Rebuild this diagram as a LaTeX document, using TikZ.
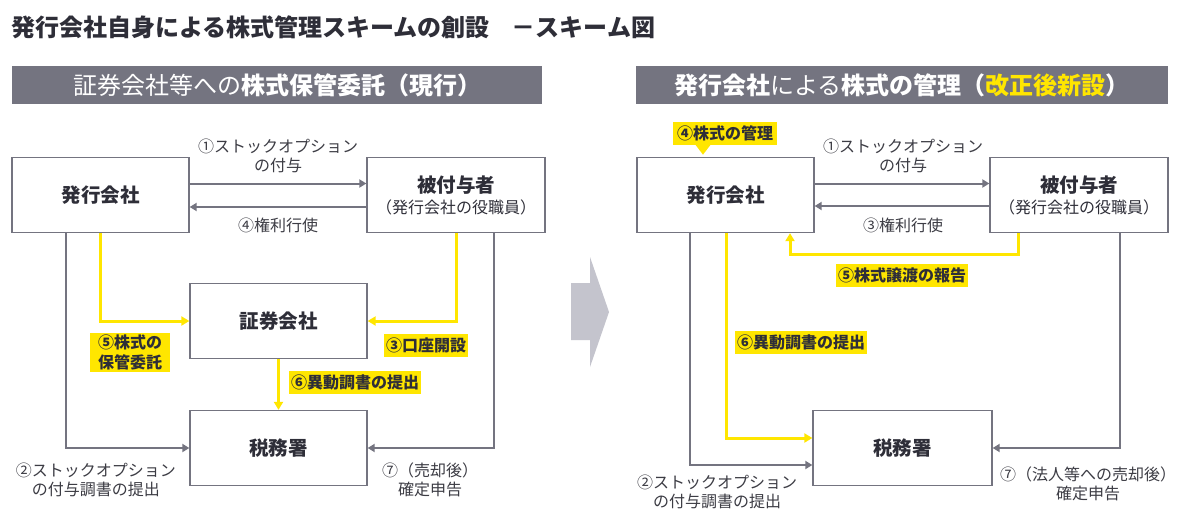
\documentclass[tikz,border=0pt]{standalone}
\usepackage{fontspec}
\setmainfont{Noto Sans CJK JP}
\usetikzlibrary{arrows.meta,calc}
\definecolor{eydark}{HTML}{2E2E38}
\definecolor{eygray}{HTML}{747480}
\definecolor{eyyellow}{HTML}{FFE600}
\definecolor{eylight}{HTML}{C4C4CD}
\definecolor{labtext}{HTML}{3C3C44}
\newcommand{\fs}[2]{\fontsize{#1pt}{#2pt}\selectfont}
\tikzset{
  box/.style={draw=eygray, line width=1.3pt, fill=white, minimum width=177pt, minimum height=75pt, inner sep=0pt, text=eydark, font=\fs{19.5}{23}\bfseries, align=center},
  hdr/.style={fill=eygray, minimum height=38pt, inner sep=0pt, text=white, font=\fs{24}{28}},
  garrow/.style={draw=eygray, line width=2pt, -{Triangle[width=8pt,length=7pt]}},
  yarrow/.style={draw=eyyellow, line width=3pt, -{Triangle[width=9pt,length=8pt]}},
  ylab/.style={fill=eyyellow, text=eydark, font=\fs{16}{20}\bfseries, inner xsep=2pt, inner ysep=2pt, minimum height=23pt, align=center},
  nlab/.style={text=labtext, font=\fs{16}{19.5}, inner sep=0pt, align=center},
}
\begin{document}
\begin{tikzpicture}[x=1pt,y=-1pt]
\useasboundingbox (0,0) rectangle (1180,514);
\fill[white] (0,0) rectangle (1180,514);

% title
\node[anchor=west, inner sep=0pt, text=eydark, font=\fs{24}{28}\bfseries] (title) at (11,27) {発行会社自身による株式管理スキームの創設\hspace{22pt}－スキーム図};

% headers
\node[hdr, minimum width=530pt] (hdrL) at (277,85) {証券会社等への\textbf{株式保管委託（現行）}};
\node[hdr, minimum width=532pt] (hdrR) at (902,85) {\textbf{発行会社}による\textbf{株式の管理（\textcolor{eyyellow}{改正後新設}）}};

% middle chevron
\fill[eylight] (571,283) -- (590,283) -- (590,257) -- (609,312) -- (590,367) -- (590,340) -- (571,340) -- cycle;

% ===== left panel =====
\node[box] (hakkoL) at (100.5,195) {発行会社};
\node[box, minimum width=178pt] (hifuL) at (456,195) {被付与者\\[-2pt]{\fs{16}{19}\mdseries （発行会社の役職員）}};
\node[box] (shokenL) at (278.5,321) {証券会社};
\node[box] (zeimuL) at (278.5,448) {税務署};

\draw[garrow] ([yshift=11.5pt]hakkoL.east) -- ([yshift=11.5pt]hifuL.west);
\draw[garrow] ([yshift=-12pt]hifuL.west) -- ([yshift=-12pt]hakkoL.east);
\node[nlab] (l1L) at (278,156) {①ストックオプション\\の付与};
\node[nlab] (l4L) at (278,225) {④権利行使};

\draw[yarrow] (hakkoL.south) |- (shokenL.west);
\draw[yarrow] (hifuL.south) |- (shokenL.east);
\draw[yarrow] (shokenL.south) -- (zeimuL.north);
\draw[garrow] ([xshift=-35pt]hakkoL.south) |- (zeimuL.west);
\draw[garrow] ([xshift=38pt]hifuL.south) |- (zeimuL.east);

\node[ylab, inner xsep=8pt] (l5L) at (130,352.5) {⑤株式の\\保管委託};
\node[ylab] (l3L) at (426,345) {③口座開設};
\node[ylab] (l6L) at (355,382) {⑥異動調書の提出};
\node[nlab] (l2L) at (96,480) {②ストックオプション\\の付与調書の提出};
\node[nlab] (l7L) at (430,480) {⑦（売却後）\\確定申告};

% ===== right panel =====
\node[box] (hakkoR) at (725.5,195) {発行会社};
\node[box, minimum width=178pt] (hifuR) at (1079,195) {被付与者\\[-2pt]{\fs{16}{19}\mdseries （発行会社の役職員）}};
\node[box, minimum width=179pt] (zeimuR) at (902.5,448) {税務署};

\node[ylab, inner xsep=4pt] (l4R) at (725,133) {④株式の管理};
\fill[eyyellow] ([xshift=-30pt,yshift=0.5pt]l4R.south) -- ([xshift=-14pt,yshift=0.5pt]l4R.south) -- ([xshift=-22pt,yshift=-10pt]l4R.south) -- cycle;

\draw[garrow] ([yshift=11.5pt]hakkoR.east) -- ([yshift=11.5pt]hifuR.west);
\draw[garrow] ([yshift=-11pt]hifuR.west) -- ([yshift=-11pt]hakkoR.east);
\node[nlab] (l1R) at (903,156) {①ストックオプション\\の付与};
\node[nlab] (l3R) at (903,225) {③権利行使};

\draw[yarrow] ([xshift=-61pt]hifuR.south) |- ([xshift=64.5pt,yshift=-21pt]hakkoR.south) -- ([xshift=64.5pt]hakkoR.south);
\node[ylab] (l5R) at (902,275) {⑤株式譲渡の報告};

\draw[garrow] ([xshift=-35.5pt]hakkoR.south) |- ([yshift=-17pt]zeimuR.west);
\draw[yarrow] ([xshift=0.5pt]hakkoR.south) |- ([yshift=10pt]zeimuR.west);
\draw[garrow] ([xshift=41pt]hifuR.south) |- (zeimuR.east);

\node[ylab] (l6R) at (801,342) {⑥異動調書の提出};
\node[nlab] (l2R) at (717,492) {②ストックオプション\\の付与調書の提出};
\node[nlab] (l7R) at (1088,484) {⑦（法人等への売却後）\\確定申告};
\end{tikzpicture}
\end{document}
